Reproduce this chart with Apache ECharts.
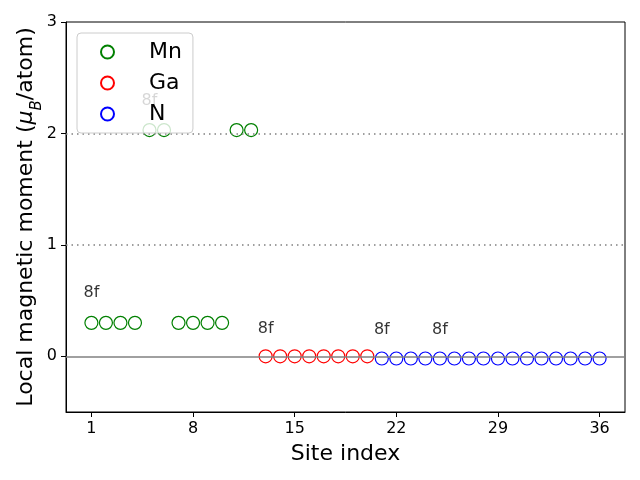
<!DOCTYPE html>
<html>
<head>
<meta charset="utf-8">
<script src="https://cdn.jsdelivr.net/npm/echarts@6/dist/echarts.min.js"></script>
<style>html,body{margin:0;padding:0;background:#fff}#c{width:640px;height:480px}</style>
</head>
<body>
<div id="c"></div>
<script>
const mnSites = [1,2,3,4,5,6,7,8,9,10,11,12];
const mnMoments = [0.30,0.30,0.30,0.30,2.03,2.03,0.30,0.30,0.30,0.30,2.03,2.03];
const gaSites = [13,14,15,16,17,18,19,20];
const gaMoments = [0.0,0.0,0.0,0.0,0.0,0.0,0.0,0.0];
const nSites = [21,22,23,24,25,26,27,28,29,30,31,32,33,34,35,36];
const nMoments = [-0.02,-0.02,-0.02,-0.02,-0.02,-0.02,-0.02,-0.02,-0.02,-0.02,-0.02,-0.02,-0.02,-0.02,-0.02,-0.02];
const annotX = [1,5,13,21,25];
const annotY = [0.566,2.29,0.25,0.24,0.24];
const annotText = ['8f','8f','8f','8f','8f'];
const xTicks = [1,8,15,22,29,36];
const yTicks = [0,1,2,3];
const refLines = [0,1,2];

const FONT = 'DejaVu Sans';
const zip = (xs, ys) => xs.map((x,i)=>[x, ys[i]]);
function pts(name, xs, ys, color){
  return {
    name, type:'scatter', data: zip(xs, ys), symbol:'circle', symbolSize:13,
    itemStyle:{color:'rgba(0,0,0,0)', borderColor:color, borderWidth:1.2, opacity:1},
    z:3
  };
}
const chart = echarts.init(document.getElementById('c'), null, {renderer:'canvas'});
chart.setOption({
  animation:false,
  backgroundColor:'#fff',
  grid:{left:66, right:15, top:22, bottom:68, containLabel:false, outerBoundsMode:'none',
        show:true, borderColor:'#000', borderWidth:1, backgroundColor:'transparent'},
  xAxis:{
    type:'value', min:-0.75, max:37.75,
    name:'Site index', nameLocation:'middle', nameGap:31, nameMoveOverlap:false,
    nameTextStyle:{fontFamily:FONT, fontSize:22, color:'#000'},
    axisLine:{show:true, onZero:false, lineStyle:{color:'#000', width:1}},
    axisTick:{show:true, inside:false, length:5, lineStyle:{color:'#000'}, customValues:xTicks},
    axisLabel:{fontFamily:FONT, fontSize:16, color:'#000', margin:9, customValues:xTicks},
    splitLine:{show:false}
  },
  yAxis:{
    type:'value', min:-0.5, max:3,
    name:'Local magnetic moment ({i|μ}{s|B}/atom)', nameLocation:'middle', nameGap:29, nameMoveOverlap:false,
    nameTextStyle:{fontFamily:FONT, fontSize:22, color:'#000',
      rich:{i:{fontFamily:FONT, fontSize:22, fontStyle:'italic', color:'#000'},
            s:{fontFamily:FONT, fontSize:15, fontStyle:'italic', color:'#000', verticalAlign:'bottom', padding:[0,0,-8,0]}}},
    axisLine:{show:true, onZero:false, lineStyle:{color:'#000', width:1}},
    axisTick:{show:true, inside:false, length:5, lineStyle:{color:'#000'}, customValues:yTicks},
    axisLabel:{fontFamily:FONT, fontSize:16, color:'#000', margin:9, customValues:yTicks},
    splitLine:{show:false}
  },
  legend:{
    data:['Mn','Ga','N'], orient:'vertical', left:77, top:33,
    padding:[8,11,8,23], itemGap:9, itemWidth:13, itemHeight:13,
    backgroundColor:'rgba(255,255,255,0.8)', borderColor:'#cccccc', borderWidth:1, borderRadius:4,
    textStyle:{fontFamily:FONT, fontSize:22, color:'#000', lineHeight:22, padding:[0,0,0,30]},
    z:10
  },
  series:[
    {
      name:'ref', type:'line', data:[], silent:true, z:1,
      markLine:{
        silent:true, symbol:['none','none'], label:{show:false}, animation:false,
        data: refLines.map(v => ({yAxis:v, lineStyle: v===0
          ? {color:'#808080', width:1.5, type:'solid'}
          : {color:'#808080', width:1.5, type:[1.5,4]}}))
      }
    },
    pts('Mn', mnSites, mnMoments, '#008000'),
    pts('Ga', gaSites, gaMoments, '#ff0000'),
    pts('N', nSites, nMoments, '#0000ff'),
    {
      name:'annot', type:'scatter', data: zip(annotX, annotY), symbolSize:0.01, z:2, silent:true,
      label:{show:true, position:'inside', formatter:(p)=>annotText[p.dataIndex], fontFamily:FONT, fontSize:16, color:'#000'}
    }
  ]
});
</script>
</body>
</html>
